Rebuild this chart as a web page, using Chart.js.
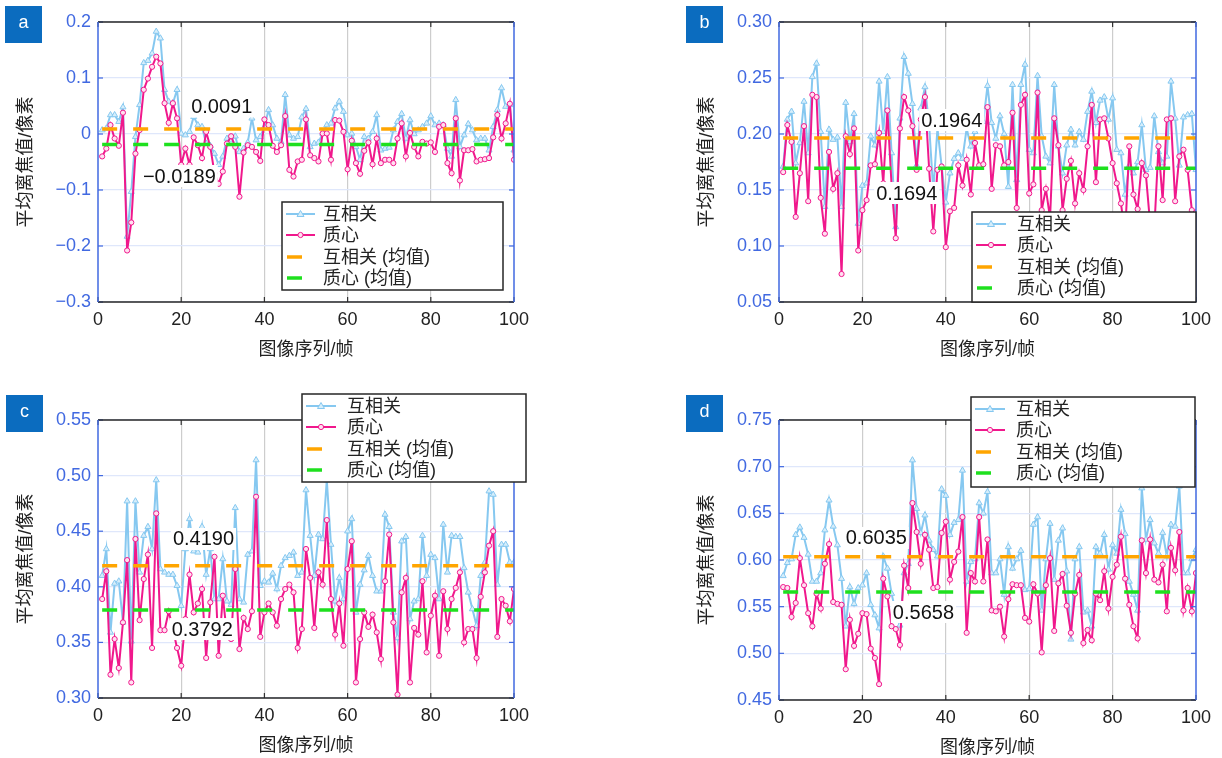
<!DOCTYPE html>
<html>
<head>
<meta charset="utf-8">
<script src="https://cdn.jsdelivr.net/npm/chart.js@4.4.1/dist/chart.umd.min.js"></script>
<style>
html, body { margin: 0; padding: 0; background: #fff; }
#wrap { position: relative; width: 1222px; height: 758px; overflow: hidden; background: #fff; }
#wrap canvas { position: absolute; left: 0; top: 0; }
</style>
</head>
<body>
<div id="wrap">
  <canvas id="chartA" width="1222" height="758"></canvas>
  <canvas id="chartB" width="1222" height="758"></canvas>
  <canvas id="chartC" width="1222" height="758"></canvas>
  <canvas id="chartD" width="1222" height="758"></canvas>
</div>
<script>
// frame index 1..100 (x categories)
const frames = Array.from({ length: 100 }, (_, i) => i + 1);
const xTicks = [0, 20, 40, 60, 80, 100];
const seriesNames = ['互相关', '质心', '互相关 (均值)', '质心 (均值)'];
const xTitle = '图像序列/帧';
const yTitle = '平均离焦值/像素';

// --- a ---
const aYTicks = [0.2, 0.1, 0, -0.1, -0.2, -0.3];
const aYLabels = ['0.2', '0.1', '0', '−0.1', '−0.2', '−0.3'];
const aMeans = [0.0091, -0.0189];
const aMeanLabels = ['0.0091', '−0.0189'];
const aXcorr = [
  0.007, 0.01, 0.034, 0.034, 0.022, 0.048, -0.183, -0.103, -0.005, 0.052,
  0.127, 0.131, 0.144, 0.183, 0.171, 0.079, 0.058, 0.055, 0.079, 0.001,
  -0.002, 0.004, 0.031, 0.016, 0.013, -0.017, -0.021, -0.035, -0.055, -0.04,
  -0.008, -0.011, -0.004, -0.032, -0.026, -0.015, 0.028, -0.011, -0.005, 0.013,
  0.043, 0.016, -0.008, -0.014, 0.07, -0.002, -0.008, -0.005, 0.03, 0.045,
  -0.023, -0.017, -0.015, 0.001, 0.016, 0.019, 0.046, 0.058, 0.04, -0.002,
  0.001, -0.023, -0.046, -0.005, -0.008, 0.004, 0.034, -0.029, -0.026, -0.024,
  0.007, 0.022, 0.036, -0.008, 0.025, 0, 0.007, 0.013, 0.019, 0.032,
  0.016, 0.019, 0.016, -0.026, -0.04, 0.061, -0.023, -0.002, 0.018, 0.007,
  -0.011, -0.008, -0.008, -0.029, 0.013, 0.043, 0.082, 0.049, 0.052, -0.029
];
const aCentroid = [
  -0.04, -0.026, 0.016, -0.008, -0.021, 0.038, -0.208, -0.158, -0.035, 0.007,
  0.079, 0.099, 0.12, 0.138, 0.126, 0.055, 0.02, 0.055, 0.028, -0.055,
  -0.026, -0.055, -0.006, -0.02, -0.043, 0.004, -0.023, -0.07, -0.089, -0.067,
  -0.017, -0.004, -0.023, -0.112, -0.033, -0.02, -0.023, -0.032, -0.048, 0.026,
  0.016, -0.021, -0.032, -0.02, 0.032, -0.064, -0.076, -0.049, -0.046, 0.026,
  -0.038, -0.043, -0.049, 0.001, 0.001, -0.046, 0.025, 0.024, 0.004, -0.063,
  -0.012, -0.052, -0.071, -0.03, -0.015, -0.054, -0.008, -0.052, -0.046, -0.046,
  -0.052, -0.008, 0.019, -0.04, 0.002, -0.023, -0.04, -0.014, -0.017, -0.015,
  -0.032, 0.013, 0.016, -0.052, -0.07, 0.028, -0.083, -0.029, -0.029, -0.027,
  -0.049, -0.046, -0.045, -0.043, -0.006, 0.034, -0.008, 0.019, 0.054, -0.046
];

// --- b ---
const bYTicks = [0.30, 0.25, 0.20, 0.15, 0.10, 0.05];
const bYLabels = ['0.30', '0.25', '0.20', '0.15', '0.10', '0.05'];
const bMeans = [0.1964, 0.1694];
const bMeanLabels = ['0.1964', '0.1694'];
const bXcorr = [
  0.171, 0.213, 0.22, 0.174, 0.192, 0.229, 0.183, 0.251, 0.263, 0.202,
  0.135, 0.204, 0.195, 0.197, 0.135, 0.228, 0.193, 0.218, 0.12, 0.154,
  0.156, 0.198, 0.19, 0.247, 0.202, 0.251, 0.183, 0.117, 0.214, 0.269,
  0.254, 0.227, 0.172, 0.223, 0.242, 0.208, 0.149, 0.205, 0.171, 0.139,
  0.165, 0.178, 0.183, 0.178, 0.205, 0.189, 0.202, 0.207, 0.211, 0.243,
  0.21, 0.196, 0.216, 0.2, 0.153, 0.244, 0.159, 0.244, 0.262, 0.186,
  0.183, 0.252, 0.198, 0.18, 0.174, 0.244, 0.189, 0.165, 0.19, 0.204,
  0.19, 0.202, 0.195, 0.22, 0.238, 0.21, 0.23, 0.233, 0.213, 0.232,
  0.186, 0.183, 0.146, 0.172, 0.165, 0.175, 0.208, 0.168, 0.17, 0.216,
  0.184, 0.174, 0.18, 0.247, 0.214, 0.172, 0.215, 0.217, 0.218, 0.168
];
const bCentroid = [
  0.166, 0.208, 0.193, 0.126, 0.165, 0.207, 0.14, 0.235, 0.233, 0.143,
  0.111, 0.184, 0.151, 0.165, 0.075, 0.198, 0.182, 0.205, 0.096, 0.132,
  0.141, 0.172, 0.173, 0.201, 0.156, 0.221, 0.154, 0.107, 0.205, 0.233,
  0.221, 0.207, 0.168, 0.213, 0.233, 0.169, 0.113, 0.168, 0.171, 0.099,
  0.131, 0.134, 0.172, 0.154, 0.177, 0.146, 0.192, 0.172, 0.173, 0.224,
  0.151, 0.19, 0.189, 0.172, 0.175, 0.219, 0.134, 0.226, 0.235, 0.147,
  0.155, 0.237, 0.132, 0.151, 0.125, 0.214, 0.19, 0.132, 0.16, 0.176,
  0.138, 0.165, 0.15, 0.189, 0.226, 0.157, 0.213, 0.214, 0.196, 0.174,
  0.156, 0.138, 0.11, 0.189, 0.146, 0.133, 0.174, 0.163, 0.12, 0.115,
  0.189, 0.141, 0.213, 0.214, 0.14, 0.18, 0.186, 0.168, 0.132, 0.13
];

// --- c ---
const cYTicks = [0.55, 0.50, 0.45, 0.40, 0.35, 0.30];
const cYLabels = ['0.55', '0.50', '0.45', '0.40', '0.35', '0.30'];
const cMeans = [0.4190, 0.3792];
const cMeanLabels = ['0.4190', '0.3792'];
const cXcorr = [
  0.41, 0.434, 0.359, 0.403, 0.405, 0.368, 0.477, 0.351, 0.477, 0.413,
  0.446, 0.454, 0.434, 0.496, 0.416, 0.413, 0.411, 0.411, 0.401, 0.383,
  0.434, 0.461, 0.432, 0.431, 0.454, 0.411, 0.434, 0.389, 0.389, 0.425,
  0.387, 0.384, 0.471, 0.389, 0.386, 0.429, 0.432, 0.514, 0.401, 0.405,
  0.404, 0.412, 0.398, 0.419, 0.426, 0.428, 0.431, 0.41, 0.413, 0.487,
  0.446, 0.41, 0.447, 0.443, 0.496, 0.438, 0.387, 0.408, 0.389, 0.45,
  0.461, 0.377, 0.402, 0.415, 0.428, 0.41, 0.396, 0.396, 0.465, 0.454,
  0.377, 0.354, 0.441, 0.445, 0.371, 0.387, 0.389, 0.446, 0.41, 0.429,
  0.426, 0.389, 0.456, 0.413, 0.446, 0.445, 0.445, 0.417, 0.395, 0.38,
  0.365, 0.41, 0.422, 0.486, 0.483, 0.402, 0.438, 0.438, 0.422, 0.422
];
const cCentroid = [
  0.389, 0.414, 0.321, 0.353, 0.327, 0.368, 0.424, 0.314, 0.443, 0.37,
  0.407, 0.429, 0.345, 0.466, 0.361, 0.361, 0.378, 0.362, 0.345, 0.329,
  0.371, 0.411, 0.377, 0.385, 0.398, 0.336, 0.386, 0.427, 0.338, 0.392,
  0.356, 0.353, 0.416, 0.344, 0.372, 0.362, 0.378, 0.481, 0.355, 0.377,
  0.385, 0.377, 0.365, 0.389, 0.398, 0.402, 0.395, 0.345, 0.362, 0.434,
  0.408, 0.363, 0.413, 0.402, 0.46, 0.389, 0.357, 0.385, 0.347, 0.416,
  0.441, 0.314, 0.353, 0.377, 0.364, 0.375, 0.359, 0.335, 0.405, 0.447,
  0.368, 0.303, 0.395, 0.408, 0.314, 0.363, 0.357, 0.405, 0.341, 0.374,
  0.392, 0.338, 0.396, 0.362, 0.389, 0.399, 0.413, 0.35, 0.362, 0.362,
  0.336, 0.391, 0.413, 0.437, 0.45, 0.355, 0.389, 0.383, 0.369, 0.398
];

// --- d ---
const dYTicks = [0.75, 0.70, 0.65, 0.60, 0.55, 0.50, 0.45];
const dYLabels = ['0.75', '0.70', '0.65', '0.60', '0.55', '0.50', '0.45'];
const dMeans = [0.6035, 0.5658];
const dMeanLabels = ['0.6035', '0.5658'];
const dXcorr = [
  0.583, 0.597, 0.601, 0.627, 0.635, 0.624, 0.606, 0.577, 0.577, 0.586,
  0.632, 0.664, 0.636, 0.616, 0.58, 0.529, 0.571, 0.553, 0.57, 0.573,
  0.586, 0.552, 0.541, 0.527, 0.604, 0.591, 0.564, 0.544, 0.53, 0.586,
  0.596, 0.707, 0.655, 0.629, 0.648, 0.621, 0.611, 0.604, 0.676, 0.669,
  0.627, 0.64, 0.643, 0.696, 0.577, 0.598, 0.601, 0.661, 0.65, 0.673,
  0.586, 0.586, 0.601, 0.563, 0.614, 0.591, 0.601, 0.61, 0.568, 0.569,
  0.638, 0.646, 0.546, 0.601, 0.639, 0.579, 0.621, 0.634, 0.588, 0.515,
  0.601, 0.614, 0.544, 0.546, 0.529, 0.614, 0.607, 0.627, 0.59, 0.616,
  0.607, 0.654, 0.628, 0.577, 0.563, 0.546, 0.677, 0.622, 0.643, 0.618,
  0.607, 0.629, 0.604, 0.638, 0.636, 0.679, 0.586, 0.586, 0.601, 0.611
];
const dCentroid = [
  0.571, 0.57, 0.539, 0.554, 0.602, 0.573, 0.543, 0.529, 0.564, 0.548,
  0.596, 0.617, 0.555, 0.553, 0.552, 0.483, 0.536, 0.508, 0.521, 0.543,
  0.542, 0.505, 0.495, 0.467, 0.58, 0.561, 0.529, 0.526, 0.509, 0.594,
  0.57, 0.661, 0.63, 0.596, 0.627, 0.611, 0.57, 0.571, 0.629, 0.641,
  0.579, 0.598, 0.609, 0.646, 0.522, 0.586, 0.577, 0.646, 0.577, 0.622,
  0.546, 0.545, 0.55, 0.518, 0.558, 0.574, 0.573, 0.573, 0.538, 0.534,
  0.574, 0.564, 0.501, 0.573, 0.602, 0.524, 0.575, 0.585, 0.551, 0.522,
  0.564, 0.584, 0.511, 0.525, 0.514, 0.564, 0.557, 0.588, 0.548, 0.582,
  0.595, 0.625, 0.58, 0.552, 0.529, 0.516, 0.621, 0.586, 0.622, 0.579,
  0.576, 0.595, 0.545, 0.613, 0.589, 0.63, 0.546, 0.57, 0.545, 0.586
];

const W = 1222, H = 758;
const BLUE = '#86c8f0', PINK = '#f0188c', ORANGE = '#ffa500', GREEN = '#1ee01e';
const AXBLUE = '#4169e1';
const TAGBLUE = '#0b6cbf';
const NUMFONT = '"Liberation Sans", Arial, sans-serif';
const TXTFONT = '"Liberation Sans", "Noto Sans CJK SC", sans-serif';

// draws spines, inner ticks, labels, legend box and panel tag
const decor = {
  id: 'decor',
  afterDraw(chart, args, o) {
    const c = chart.ctx, a = chart.chartArea;
    const xs = chart.scales.x, ys = chart.scales.y;
    const seg = (x1, y1, x2, y2) => { c.beginPath(); c.moveTo(x1, y1); c.lineTo(x2, y2); c.stroke(); };
    c.save();

    // inner tick marks
    c.lineWidth = 1.2;
    c.strokeStyle = '#333';
    xTicks.forEach(v => {
      const px = xs.getPixelForValue(v);
      seg(px, a.bottom, px, a.bottom - 5);
      seg(px, a.top, px, a.top + 5);
    });
    c.strokeStyle = AXBLUE;
    o.yTicks.forEach(v => {
      const py = ys.getPixelForValue(v);
      seg(a.left, py, a.left + 5, py);
      seg(a.right, py, a.right - 5, py);
    });

    // box: blue left/right, black top/bottom
    c.lineWidth = 1.5;
    c.strokeStyle = '#262626';
    seg(a.left, a.top, a.right, a.top);
    seg(a.left, a.bottom, a.right, a.bottom);
    c.strokeStyle = AXBLUE;
    seg(a.left, a.top, a.left, a.bottom);
    seg(a.right, a.top, a.right, a.bottom);

    // mean value notes
    c.font = '20px ' + NUMFONT;
    c.textBaseline = 'middle';
    c.textAlign = 'left';
    o.notes.forEach(n => {
      const px = xs.getPixelForValue(n.x), py = ys.getPixelForValue(n.y);
      const w = c.measureText(n.text).width;
      c.fillStyle = '#fff';
      c.fillRect(px - 2, py - 11, w + 4, 22);
      c.fillStyle = '#111';
      c.fillText(n.text, px, py + 1);
    });

    // legend
    const L = o.legendBox;
    c.fillStyle = '#fff';
    c.fillRect(L.x, L.y, L.w, L.h);
    c.lineWidth = 1.5;
    c.strokeStyle = '#262626';
    c.strokeRect(L.x, L.y, L.w, L.h);
    const rows = [12, 33, 55, 76];
    c.font = '18px ' + TXTFONT;
    rows.forEach((dy, i) => {
      const y = L.y + dy;
      if (i < 2) {
        const col = i === 0 ? BLUE : PINK;
        c.strokeStyle = col;
        c.lineWidth = 2;
        seg(L.x + 4, y, L.x + L.sample, y);
        const mx = L.x + (4 + L.sample) / 2;
        c.lineWidth = 1;
        c.fillStyle = i === 0 ? '#d6eefb' : '#ffe0f0';
        c.beginPath();
        if (i === 0) {
          c.moveTo(mx, y - 3.5); c.lineTo(mx + 3.5, y + 2.5); c.lineTo(mx - 3.5, y + 2.5); c.closePath();
        } else {
          c.arc(mx, y, 2.6, 0, Math.PI * 2);
        }
        c.fill(); c.stroke();
      } else {
        c.strokeStyle = i === 2 ? ORANGE : GREEN;
        c.lineWidth = 3.5;
        seg(L.x + 5, y, L.x + 20, y);
      }
      c.fillStyle = '#222';
      c.fillText(seriesNames[i], L.x + L.text, y + 1);
    });

    // axis titles
    c.fillStyle = '#222';
    c.font = '18px ' + TXTFONT;
    c.textAlign = 'center';
    c.fillText(xTitle, (a.left + a.right) / 2, a.bottom + 48);
    c.save();
    c.translate(a.left - 72, (a.top + a.bottom) / 2);
    c.rotate(-Math.PI / 2);
    c.fillText(yTitle, 0, 0);
    c.restore();

    // panel tag
    c.fillStyle = TAGBLUE;
    c.fillRect(o.tag.x, o.tag.y, 37, 37);
    c.fillStyle = '#fff';
    c.font = '18px ' + NUMFONT;
    c.fillText(o.tag.text, o.tag.x + 18.5, o.tag.y + 17);

    c.restore();
  }
};

function makePanel(id, p) {
  const pts = vals => frames.map((f, i) => ({ x: f, y: vals[i] }));
  const flat = m => [{ x: frames[0], y: m }, { x: frames[frames.length - 1], y: m }];
  const meanStyle = col => ({
    borderColor: col, borderWidth: 3.5, borderDash: [15, 16],
    pointRadius: 0, fill: false, order: 0
  });
  return new Chart(document.getElementById(id), {
    type: 'line',
    data: {
      datasets: [
        Object.assign({ label: seriesNames[2], data: flat(p.means[0]) }, meanStyle(ORANGE)),
        Object.assign({ label: seriesNames[3], data: flat(p.means[1]) }, meanStyle(GREEN)),
        {
          label: seriesNames[1], data: pts(p.centroid), order: 1,
          borderColor: PINK, borderWidth: 2, tension: 0,
          pointStyle: 'circle', pointRadius: 2.6,
          pointBackgroundColor: '#ffe0f0', pointBorderColor: PINK, pointBorderWidth: 1
        },
        {
          label: seriesNames[0], data: pts(p.xcorr), order: 2,
          borderColor: BLUE, borderWidth: 2, tension: 0,
          pointStyle: 'triangle', pointRadius: 3.5,
          pointBackgroundColor: '#d6eefb', pointBorderColor: BLUE, pointBorderWidth: 1
        }
      ]
    },
    options: {
      responsive: false,
      animation: false,
      devicePixelRatio: 1,
      events: [],
      layout: {
        padding: { left: 0, top: p.plot.top, right: W - p.plot.right, bottom: H - p.plot.bottom - 40 }
      },
      plugins: {
        legend: { display: false },
        tooltip: { enabled: false },
        decor: {
          yTicks: p.yTicks, notes: p.notes, legendBox: p.legendBox, tag: p.tag
        }
      },
      scales: {
        x: {
          type: 'linear', min: 0, max: 100,
          afterBuildTicks: s => { s.ticks = xTicks.map(v => ({ value: v })); },
          afterFit: s => { s.height = 40; },
          grid: {
            drawTicks: false, lineWidth: 1.2,
            color: ctx => (ctx.tick && (ctx.tick.value === 0 || ctx.tick.value === 100)) ? 'rgba(0,0,0,0)' : '#cdcdcd'
          },
          border: { display: false },
          ticks: { color: '#222', font: { family: NUMFONT, size: 18 }, padding: 7, maxRotation: 0, autoSkip: false }
        },
        y: {
          type: 'linear', min: p.yTicks[p.yTicks.length - 1], max: p.yTicks[0],
          afterBuildTicks: s => { s.ticks = p.yTicks.map(v => ({ value: v })); },
          afterFit: s => { s.width = p.plot.left; },
          grid: { drawTicks: false, color: '#dfe7fb', lineWidth: 1.2 },
          border: { display: false },
          ticks: {
            color: AXBLUE, font: { family: NUMFONT, size: 18 }, padding: 7, autoSkip: false,
            callback: (v, i) => p.yLabels[i]
          }
        }
      }
    },
    plugins: [decor]
  });
}

makePanel('chartA', {
  xcorr: aXcorr, centroid: aCentroid, means: aMeans,
  yTicks: aYTicks, yLabels: aYLabels,
  plot: { left: 98, top: 22, right: 514, bottom: 302 },
  notes: [{ x: 22.4, y: 0.049, text: aMeanLabels[0] }, { x: 10.8, y: -0.075, text: aMeanLabels[1] }],
  legendBox: { x: 282, y: 202, w: 221, h: 88, sample: 33, text: 41 },
  tag: { x: 5, y: 6, text: 'a' }
});
makePanel('chartB', {
  xcorr: bXcorr, centroid: bCentroid, means: bMeans,
  yTicks: bYTicks, yLabels: bYLabels,
  plot: { left: 779, top: 22, right: 1196, bottom: 302 },
  notes: [{ x: 34.1, y: 0.2125, text: bMeanLabels[0] }, { x: 23.3, y: 0.1473, text: bMeanLabels[1] }],
  legendBox: { x: 972, y: 212, w: 224, h: 90, sample: 34, text: 45 },
  tag: { x: 686, y: 6, text: 'b' }
});
makePanel('chartC', {
  xcorr: cXcorr, centroid: cCentroid, means: cMeans,
  yTicks: cYTicks, yLabels: cYLabels,
  plot: { left: 98, top: 420, right: 514, bottom: 698 },
  notes: [{ x: 18.0, y: 0.443, text: cMeanLabels[0] }, { x: 17.7, y: 0.362, text: cMeanLabels[1] }],
  legendBox: { x: 302, y: 394, w: 224, h: 88, sample: 34, text: 45 },
  tag: { x: 6, y: 395, text: 'c' }
});
makePanel('chartD', {
  xcorr: dXcorr, centroid: dCentroid, means: dMeans,
  yTicks: dYTicks, yLabels: dYLabels,
  plot: { left: 779, top: 420, right: 1196, bottom: 700 },
  notes: [{ x: 16.0, y: 0.6236, text: dMeanLabels[0] }, { x: 27.3, y: 0.5443, text: dMeanLabels[1] }],
  legendBox: { x: 971, y: 397, w: 224, h: 90, sample: 34, text: 45 },
  tag: { x: 686, y: 395, text: 'd' }
});
</script>
</body>
</html>
